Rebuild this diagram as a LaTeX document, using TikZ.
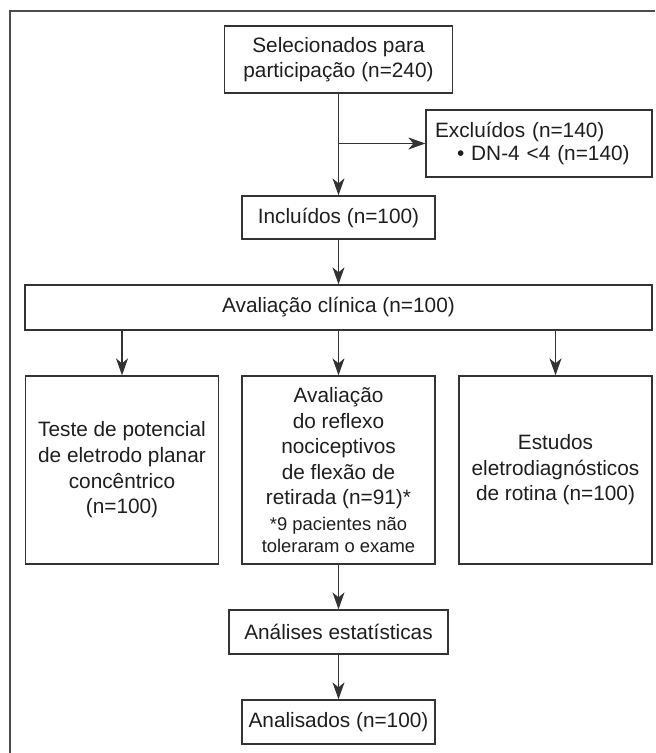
\documentclass[tikz,border=0pt]{standalone}
\usepackage{fontspec}
\setmainfont{Liberation Sans}
\usetikzlibrary{arrows.meta,positioning}
\definecolor{boxline}{HTML}{333333}
\definecolor{txt}{HTML}{1E1E1E}

\begin{document}
\begin{tikzpicture}[x=0.5pt, y=-0.5pt,
  box/.style={draw=boxline, line width=0.65pt, align=center, inner sep=0pt, text=txt, font=\fontsize{10.4}{12.8}\selectfont},
  tall/.style={box, minimum width=96.5pt, minimum height=94pt},
  arr/.style={-{Stealth[length=8.5pt,width=6pt,inset=2.5pt]}, line width=0.65pt, boxline}
]
  \useasboundingbox (0,0) rectangle (655,753);
  \draw[line width=0.8pt, black!70] (10,753) -- (10,11) -- (655,11);
  \node[box, minimum width=114pt, minimum height=33.5pt] (sel) at (338.5,59.5) {Selecionados para\\participação (n=240)};
  \node[box, minimum height=33.5pt, text width=104pt, inner xsep=4.5pt, align=left] (exc) at (539,143.5) {Excluídos (n=140)\\[-1.5pt]\hspace*{11pt}\textbullet\ DN-4 \textless4 (n=140)};
  \node[box, minimum width=96.5pt, minimum height=21.5pt] (inc) at (338.5,217.5) {Incluídos (n=100)};
  \node[box, minimum width=313.5pt, minimum height=22.5pt] (aval) at (338.5,307.5) {Avaliação clínica (n=100)};
  \foreach \n/\x/\t in {tpl/122/{Teste de potencial\\de eletrodo planar\\concêntrico\\(n=100)},
      rfx/338.5/{Avaliação\\do reflexo\\nociceptivos\\de flexão de\\retirada (n=91)*\\{\fontsize{9.2}{11}\selectfont *9 pacientes não}\\[-1.8pt]{\fontsize{9.2}{11}\selectfont toleraram o exame}},
      est/555.5/{Estudos\\eletrodiagnósticos\\de rotina (n=100)}}{
     \node[tall] (\n) at (\x,470) {\t};}
  \node[box, minimum width=109.5pt, minimum height=22pt] (ana) at (338.5,632) {Análises estatísticas};
  \node[box, minimum width=96.5pt, minimum height=22pt] (fin) at (338.5,722) {Analisados (n=100)};
  \coordinate (br) at (sel.south |- exc.west);
  \draw[arr] (sel) -- (inc);
  \draw[arr] (br) -- (exc);
  \draw[arr] (inc) -- (aval);
  \foreach \n in {tpl,rfx,est}{\draw[arr] (aval.south -| \n) -- (\n);}
  \draw[arr] (rfx) -- (ana);
  \draw[arr] (ana) -- (fin);
\end{tikzpicture}
\end{document}
